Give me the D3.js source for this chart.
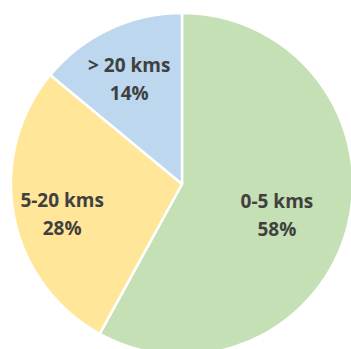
<!DOCTYPE html>
<html><head><meta charset="utf-8">
<script src="https://cdn.jsdelivr.net/npm/d3@7"></script>
<style>html,body{margin:0;padding:0;background:#fff;}svg{display:block;}</style>
</head><body>
<svg id="c" width="351" height="349"></svg>
<script>
const categories = ["0-5 kms", "5-20 kms", "> 20 kms"];
const values = [58, 28, 14];
const colors = ["#c5e0b4", "#ffe699", "#bdd7ee"];

const svg = d3.select("#c");
const cx = 182, cy = 184, R = 171;
const g = svg.append("g").attr("transform", `translate(${cx},${cy})`);
const pie = d3.pie().sort(null).value(d => d.v);
const data = pie(categories.map((c, i) => ({c, v: values[i], col: colors[i]})));
const arc = d3.arc().innerRadius(0).outerRadius(R);
g.selectAll("path").data(data).join("path")
  .attr("d", arc).attr("fill", d => d.data.col)
  .attr("stroke", "#fff").attr("stroke-width", 2.5).attr("stroke-linejoin", "round");

const labelR = [98, 122, 124];
const lab = g.selectAll("g.lab").data(data).join("g").attr("class", "lab")
  .attr("transform", (d, i) => {
    const a = (d.startAngle + d.endAngle) / 2;
    return `translate(${labelR[i] * Math.sin(a)},${-labelR[i] * Math.cos(a)})`;
  });
const font = "'Open Sans', 'Liberation Sans', sans-serif";
lab.append("text").attr("text-anchor", "middle").attr("y", 0)
  .attr("font-family", font).attr("font-weight", "bold").attr("font-size", 19)
  .attr("fill", "#404040").text(d => d.data.c);
lab.append("text").attr("text-anchor", "middle").attr("y", 28)
  .attr("font-family", font).attr("font-weight", "bold").attr("font-size", 19)
  .attr("fill", "#404040").text(d => d.data.v + "%");
</script>
</body></html>
